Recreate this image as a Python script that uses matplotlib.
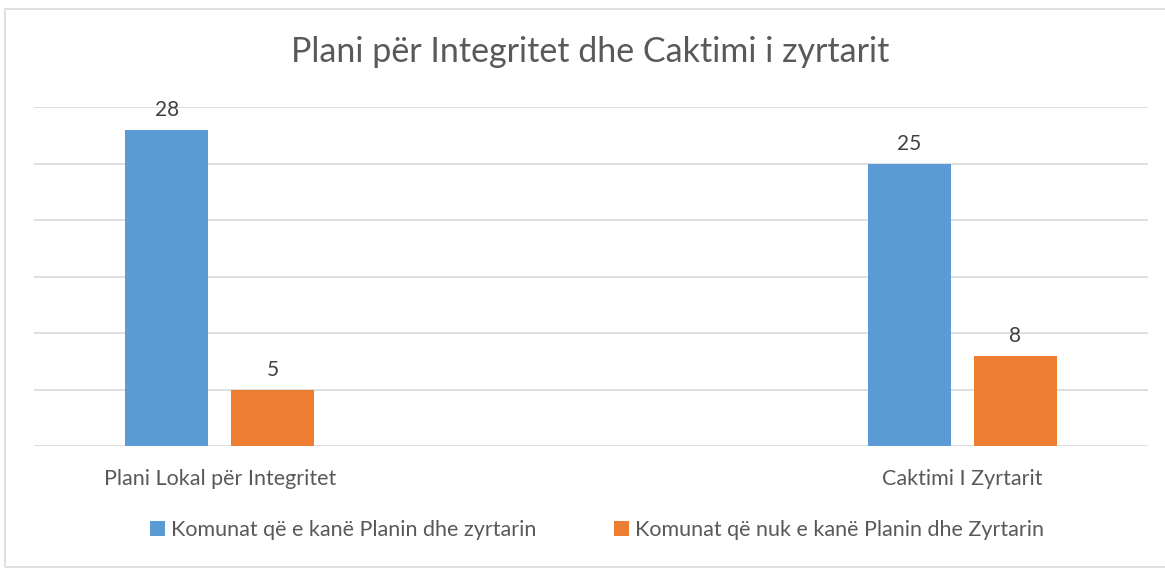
import matplotlib
matplotlib.use("Agg")
import matplotlib.pyplot as plt
from matplotlib.patches import Rectangle
import numpy as np

title = "Plani për Integritet dhe Caktimi i zyrtarit"
categories = ["Plani Lokal për Integritet", "Caktimi I Zyrtarit"]
series_names = ["Komunat që e kanë Planin dhe zyrtarin",
                "Komunat që nuk e kanë Planin dhe Zyrtarin"]
have_plan = [28, 25]
no_plan = [5, 8]

colors = ["#5B9BD5", "#ED7D31"]
plt.rcParams['font.family'] = ['Lato', 'DejaVu Sans']

W, H = 1165, 569
fig = plt.figure(figsize=(W / 100, H / 100), dpi=100)
fig.patch.set_facecolor("white")

# outer chart border
fig.add_artist(Rectangle((5 / W, 2 / H), 1.2, (567 - 8.5) / H, transform=fig.transFigure,
                         fill=False, edgecolor="#d9d9d9", linewidth=1.2))

ax = fig.add_axes([34 / W, (H - 446) / H, (1148 - 34) / W, (446 - 107) / H])
x = np.arange(len(categories))
bw = 0.112
off = 0.0714
b1 = ax.bar(x - off, have_plan, bw, color=colors[0], label=series_names[0], zorder=3)
b2 = ax.bar(x + off, no_plan, bw, color=colors[1], label=series_names[1], zorder=3)
for bars in (b1, b2):
    ax.bar_label(bars, padding=7, fontsize=15, color="#404040")

ax.set_xlim(-0.25, 1.25)
ax.set_ylim(0, 30)
ax.set_yticks(np.arange(0, 31, 5))
ax.yaxis.grid(True, color="#d9d9d9", linewidth=1.2, zorder=0)
ax.tick_params(axis="y", left=False, labelleft=False)
ax.tick_params(axis="x", bottom=False, labelsize=15.5, labelcolor="#595959", pad=13)
ax.set_xticks(x)
ax.set_xticklabels(categories)
for s in ax.spines.values():
    s.set_visible(False)

fig.text(590 / W, 1 - 52 / H, title, ha="center", va="center", fontsize=24.5, color="#595959")

leg = fig.legend(loc="center", bbox_to_anchor=(597 / W, 1 - 530 / H), ncol=2, frameon=False,
                 fontsize=15.5, handlelength=0.7, handleheight=0.7, handletextpad=0.3,
                 columnspacing=3.6, labelcolor="#595959")

fig.savefig("out.png", dpi=100)
